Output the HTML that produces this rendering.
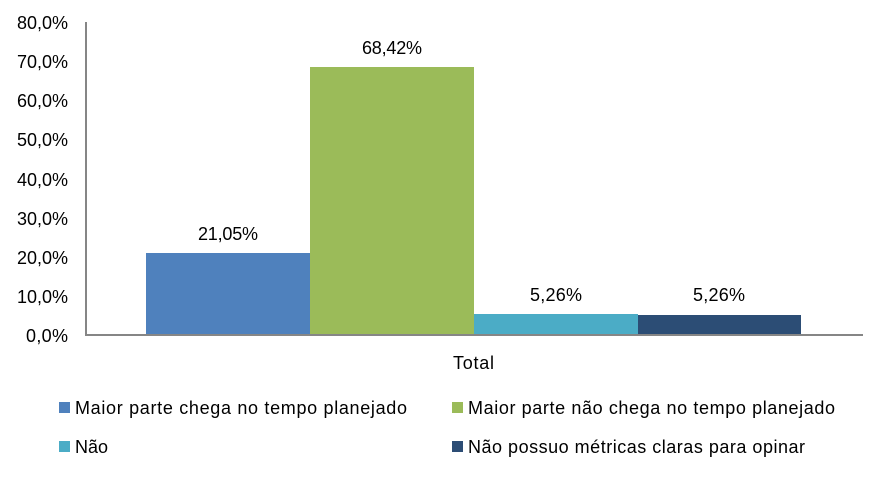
<!DOCTYPE html>
<html><head><meta charset="utf-8"><style>
body{margin:0;background:#fff;}
svg text{font-family:"Liberation Sans",sans-serif;fill:#000;}
</style></head><body>
<svg width="886" height="472" viewBox="0 0 886 472" xmlns="http://www.w3.org/2000/svg">
<g font-size="18" text-anchor="end">
<text x="68" y="29" textLength="51">80,0%</text>
<text x="68" y="68" textLength="51">70,0%</text>
<text x="68" y="107" textLength="51">60,0%</text>
<text x="68" y="146" textLength="51">50,0%</text>
<text x="68" y="186" textLength="51">40,0%</text>
<text x="68" y="225" textLength="51">30,0%</text>
<text x="68" y="264" textLength="51">20,0%</text>
<text x="68" y="303" textLength="51">10,0%</text>
<text x="68" y="342" textLength="42">0,0%</text>
</g>
<rect x="146" y="253" width="164" height="82" fill="#4F81BD"/>
<rect x="310" y="67" width="164" height="268" fill="#9BBB59"/>
<rect x="474" y="314" width="164" height="21" fill="#4BACC6"/>
<rect x="638" y="315" width="163" height="20" fill="#2C4D75"/>
<line x1="86" y1="22" x2="86" y2="335" stroke="#868686" stroke-width="2"/>
<line x1="85" y1="335" x2="863" y2="335" stroke="#868686" stroke-width="2"/>
<g font-size="18">
<text x="198" y="240" textLength="60">21,05%</text>
<text x="362" y="54" textLength="60">68,42%</text>
<text x="530" y="301" textLength="52">5,26%</text>
<text x="693" y="301" textLength="52">5,26%</text>
<text x="453" y="369" textLength="41">Total</text>
</g>
<g font-size="18">
<rect x="59" y="402" width="11" height="11" fill="#4F81BD"/>
<text x="75" y="414" textLength="332">Maior parte chega no tempo planejado</text>
<rect x="452" y="402" width="11" height="11" fill="#9BBB59"/>
<text x="468" y="414" textLength="367">Maior parte não chega no tempo planejado</text>
<rect x="59" y="441" width="11" height="11" fill="#4BACC6"/>
<text x="75" y="453" textLength="33">Não</text>
<rect x="452" y="441" width="11" height="11" fill="#2C4D75"/>
<text x="468" y="453" textLength="337">Não possuo métricas claras para opinar</text>
</g>
</svg>
</body></html>
